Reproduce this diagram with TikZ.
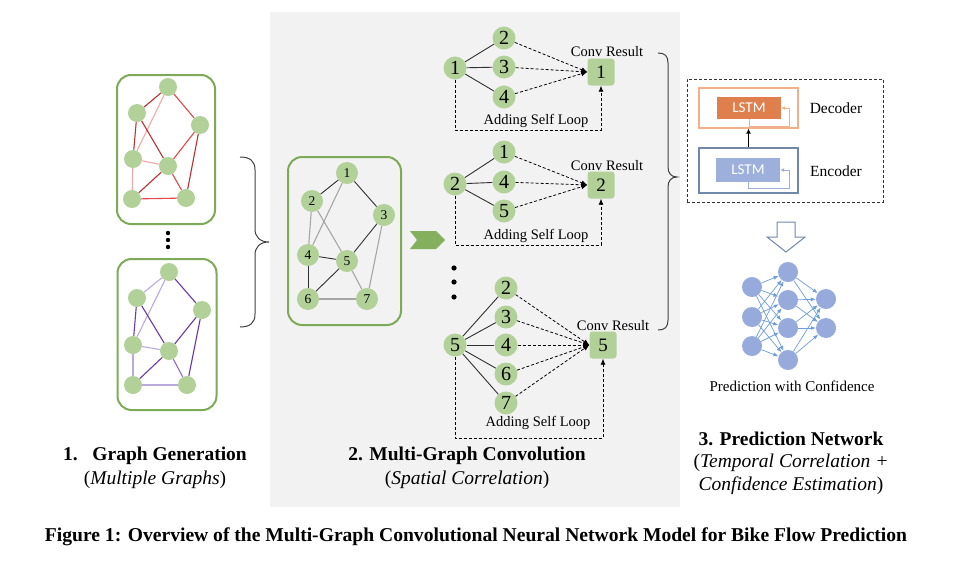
\documentclass[tikz,border=0pt]{standalone}
\usepackage{fontspec}
\setmainfont{Liberation Serif}
\newfontfamily\lstmfont{Carlito}
\usetikzlibrary{arrows.meta,calc}
\definecolor{gfill}{HTML}{B1D199}
\definecolor{gbord}{HTML}{7DAA57}
\definecolor{panel}{HTML}{F2F2F2}
\definecolor{rdark}{HTML}{B83232}
\definecolor{rmid}{HTML}{E04848}
\definecolor{rlight}{HTML}{F5A8A8}
\definecolor{pdark}{HTML}{6A3AA8}
\definecolor{pmid}{HTML}{8E6CC4}
\definecolor{plight}{HTML}{BBAADD}
\definecolor{edgeblk}{HTML}{303030}
\definecolor{edgegray}{HTML}{A6A6A6}
\definecolor{orfill}{HTML}{DF7F4D}
\definecolor{orline}{HTML}{F2B08A}
\definecolor{blfill}{HTML}{9DAFDB}
\definecolor{blline}{HTML}{7088AC}
\definecolor{nnfill}{HTML}{96AADB}
\definecolor{nnedge}{HTML}{6C9DDC}
\definecolor{chev}{HTML}{84AF5C}
\definecolor{bracec}{HTML}{404040}
\begin{document}
\begin{tikzpicture}[x=1pt,y=-1pt,
  gnode/.style={circle,fill=gfill,minimum size=18pt,inner sep=0pt},
  mnode/.style={circle,fill=gfill,minimum size=22pt,inner sep=0pt,font=\fontsize{13.5}{14}\selectfont},
  cnode/.style={circle,fill=gfill,minimum size=23pt,inner sep=0pt,font=\fontsize{20}{20}\selectfont},
  rnode/.style={rectangle,rounded corners=3pt,fill=gfill,minimum size=27pt,inner sep=0pt,font=\fontsize{19}{19}\selectfont},
  gbox/.style={draw=gbord,line width=2pt,rounded corners=14pt,inner sep=0pt},
  ed/.style={line width=1.1pt},
  nbr/.style={draw=edgeblk,line width=0.9pt},
  dsh/.style={draw=black,line width=0.8pt,dash pattern=on 3pt off 2pt,-{Latex[length=6pt,width=5pt]}},
  dshbox/.style={draw=black!80,line width=0.9pt,dash pattern=on 3pt off 2pt},
  lbl/.style={font=\fontsize{14.5}{16}\selectfont,inner sep=0pt},
  captb/.style={font=\fontsize{19.5}{22}\selectfont\bfseries,inner sep=0pt},
  capt/.style={font=\fontsize{19.5}{22}\selectfont,inner sep=0pt},
  lstmbox/.style={rectangle,inner sep=0pt,text=white,font=\lstmfont\fontsize{15}{15}\selectfont},
  nn/.style={circle,fill=nnfill,minimum size=20pt,inner sep=0pt},
  nnar/.style={draw=nnedge,line width=0.7pt,-{Latex[length=5pt,width=4pt]}},
  bracep/.style={draw=bracec,line width=1pt}
]
\useasboundingbox (0,0) rectangle (963,565);
\fill[white] (0,0) rectangle (963,565);
% gray panel
\fill[panel] (270,12) rectangle (680,507);

% ---------- left top graph ----------
\node[gbox,minimum width=98pt,minimum height=149pt] (boxa) at (166,149.5) {};
\node[gnode] (a1) at (168,87) {};
\node[gnode] (a2) at (137,113) {};
\node[gnode] (a3) at (200,125) {};
\node[gnode] (a4) at (133,159) {};
\node[gnode] (a5) at (168,166) {};
\node[gnode] (a6) at (132,199) {};
\node[gnode] (a7) at (186,198) {};
\begin{scope}[on background layer/.style={}]
\end{scope}
\draw[ed,rdark] (a1) -- (a2);
\draw[ed,rlight] (a1) -- (a4);
\draw[ed,rmid] (a1) -- (a3);
\draw[ed,rdark] (a2) -- (a4);
\draw[ed,rdark] (a2) -- (a5);
\draw[ed,rlight] (a4) -- (a5);
\draw[ed,rlight] (a4) -- (a6);
\draw[ed,rmid] (a3) -- (a5);
\draw[ed,rdark] (a3) -- (a7);
\draw[ed,rdark] (a5) -- (a6);
\draw[ed,rmid] (a5) -- (a7);
\draw[ed,rmid] (a6) -- (a7);

% dots
\fill (168,233) circle (2.2pt);
\fill (168,240) circle (2.2pt);
\fill (168,247) circle (2.2pt);

% ---------- left bottom graph ----------
\node[gbox,minimum width=99pt,minimum height=151pt] (boxb) at (167,334.5) {};
\node[gnode] (b1) at (169,272) {};
\node[gnode] (b2) at (137,298) {};
\node[gnode] (b3) at (202,310) {};
\node[gnode] (b4) at (133,345) {};
\node[gnode] (b5) at (169,351) {};
\node[gnode] (b6) at (133,385) {};
\node[gnode] (b7) at (187,385) {};
\draw[ed,plight] (b1) -- (b2);
\draw[ed,plight] (b1) -- (b4);
\draw[ed,pdark] (b1) -- (b3);
\draw[ed,pdark] (b2) -- (b4);
\draw[ed,pdark] (b2) -- (b5);
\draw[ed,plight] (b4) -- (b5);
\draw[ed,plight] (b4) -- (b6);
\draw[ed,pdark] (b3) -- (b5);
\draw[ed,pdark] (b3) -- (b7);
\draw[ed,pdark] (b5) -- (b6);
\draw[ed,pmid] (b5) -- (b7);
\draw[ed,plight] (b6) -- (b7);

% left brace
\draw[bracep] (240,157) .. controls (250,157) and (255,161) .. (255,170) -- (255,229)
  .. controls (255,237) and (260,242) .. (269,242)
  .. controls (260,242) and (255,247) .. (255,255) -- (255,314)
  .. controls (255,323) and (250,327) .. (240,327);

% ---------- middle graph ----------
\node[gbox,minimum width=113pt,minimum height=168pt] (boxm) at (344.5,241) {};
\node[mnode] (m1) at (347,173) {1};
\node[mnode] (m2) at (312,201) {2};
\node[mnode] (m3) at (384,215) {3};
\node[mnode] (m4) at (308,255) {4};
\node[mnode] (m5) at (347,261) {5};
\node[mnode] (m6) at (308,299) {6};
\node[mnode] (m7) at (367,299) {7};
\draw[nbr] (m1) -- (m2);
\draw[ed,edgegray] (m1) -- (m4);
\draw[nbr] (m1) -- (m3);
\draw[ed,edgegray] (m2) -- (m4);
\draw[ed,edgegray] (m2) -- (m5);
\draw[nbr] (m3) -- (m5);
\draw[ed,edgegray] (m3) -- (m7);
\draw[nbr] (m4) -- (m5);
\draw[nbr] (m4) -- (m6);
\draw[nbr] (m5) -- (m6);
\draw[ed,edgegray] (m5) -- (m7);
\draw[ed,edgegray] (m6) -- (m7);

% chevron
\fill[chev] (410,231) -- (436,231) -- (445,240) -- (436,249) -- (410,249) -- (417,240) -- cycle;

% ---------- conv section 1 ----------
\node[cnode] (c1) at (455,68) {1};
\node[cnode] (c1a) at (504,38) {2};
\node[cnode] (c1b) at (504,67) {3};
\node[cnode] (c1c) at (504,97) {4};
\node[rnode] (r1) at (601,72) {1};
\node[lbl,anchor=south] (t1) at (607,57) {Conv Result};
\draw[nbr] (c1) -- (c1a);
\draw[nbr] (c1) -- (c1b);
\draw[nbr] (c1) -- (c1c);
\draw[dsh] (c1a) -- (r1.west);
\draw[dsh] (c1b) -- (r1.west);
\draw[dsh] (c1c) -- (r1.west);
\coordinate (l1) at (530,130);
\draw[dsh] (c1.south) |- (l1) -| (r1.south);
\node[lbl,anchor=south] (s1) at (536,128) {Adding Self Loop};

% ---------- conv section 2 ----------
\node[cnode] (c2) at (455,184) {2};
\node[cnode] (c2a) at (504,152) {1};
\node[cnode] (c2b) at (504,182) {4};
\node[cnode] (c2c) at (504,211) {5};
\node[rnode] (r2) at (601,185) {2};
\node[lbl,anchor=south] (t2) at (607,171) {Conv Result};
\draw[nbr] (c2) -- (c2a);
\draw[nbr] (c2) -- (c2b);
\draw[nbr] (c2) -- (c2c);
\draw[dsh] (c2a) -- (r2.west);
\draw[dsh] (c2b) -- (r2.west);
\draw[dsh] (c2c) -- (r2.west);
\coordinate (l2) at (530,245);
\draw[dsh] (c2.south) |- (l2) -| (r2.south);
\node[lbl,anchor=south] (s2) at (536,243) {Adding Self Loop};

% dots
\fill (454,268) circle (2.6pt);
\fill (454,282) circle (2.6pt);
\fill (454,297) circle (2.6pt);

% ---------- conv section 3 ----------
\node[cnode] (c3) at (455,345) {5};
\node[cnode] (c3a) at (506,288) {2};
\node[cnode] (c3b) at (506,317) {3};
\node[cnode] (c3c) at (506,345) {4};
\node[cnode] (c3d) at (506,374) {6};
\node[cnode] (c3e) at (506,403) {7};
\node[rnode] (r3) at (603,345) {5};
\node[lbl,anchor=south] (t3) at (613,331) {Conv Result};
\draw[nbr] (c3) -- (c3a);
\draw[nbr] (c3) -- (c3b);
\draw[nbr] (c3) -- (c3c);
\draw[nbr] (c3) -- (c3d);
\draw[nbr] (c3) -- (c3e);
\draw[dsh] (c3a) -- (r3.west);
\draw[dsh] (c3b) -- (r3.west);
\draw[dsh] (c3c) -- (r3.west);
\draw[dsh] (c3d) -- (r3.west);
\draw[dsh] (c3e) -- (r3.west);
\coordinate (l3) at (530,438);
\draw[dsh] (c3.south) |- (l3) -| (r3.south);
\node[lbl,anchor=south] (s3) at (538,430) {Adding Self Loop};

% right brace
\draw[bracep] (658,53) .. controls (665,53) and (668,56) .. (668,63) -- (668,167)
  .. controls (668,173) and (671,177) .. (677,177)
  .. controls (671,177) and (668,181) .. (668,187) -- (668,320)
  .. controls (668,327) and (665,330) .. (658,330);

% ---------- LSTM block ----------
\node[dshbox,rectangle,minimum width=196pt,minimum height=123pt,inner sep=0pt] (outer) at (785,140.5) {};
\node[draw=orline,line width=1.2pt,rectangle,minimum width=99pt,minimum height=40pt,inner sep=0pt] (decb) at (748.5,108) {};
\node[lstmbox,fill=orfill,minimum width=64pt,minimum height=22pt] (lstd) at (749,108) {LSTM};
\coordinate (dl) at (789,126);
\draw[draw=orline,line width=1pt,-{Latex[length=4pt,width=4pt]}] (lstd.south) |- (dl) |- (lstd.east);
\node[draw=blline,line width=1.2pt,rectangle,minimum width=99pt,minimum height=45pt,inner sep=0pt] (encb) at (748.5,170.5) {};
\node[lstmbox,fill=blfill,minimum width=64pt,minimum height=24pt] (lste) at (748,170) {LSTM};
\coordinate (el) at (789,188);
\draw[draw=blfill,line width=1pt,-{Latex[length=4pt,width=4pt]}] (lste.south) |- (el) |- (lste.east);
\draw[line width=1pt,-{Latex[length=5pt,width=5pt]}] (encb.north) -- (decb.south);
\node[font=\fontsize{15.5}{16}\selectfont,inner sep=0pt] (dtx) at (836,108) {Decoder};
\node[font=\fontsize{15.5}{16}\selectfont,inner sep=0pt] (etx) at (836,171) {Encoder};

% hollow down arrow
\draw[draw=blline,line width=1pt,fill=white] (777,222) -- (795,222) -- (795,237) -- (805,237) -- (786,252) -- (767,237) -- (777,237) -- cycle;

% ---------- neural net ----------
\node[nn] (i1) at (752,287) {};
\node[nn] (i2) at (752,317) {};
\node[nn] (i3) at (752,346) {};
\node[nn] (h1) at (788,272) {};
\node[nn] (h2) at (788,300) {};
\node[nn] (h3) at (788,328) {};
\node[nn] (h4) at (788,360) {};
\node[nn] (o1) at (826,299) {};
\node[nn] (o2) at (826,328) {};
\foreach \i in {i1,i2,i3}{\foreach \h in {h1,h2,h3,h4}{\draw[nnar] (\i) -- (\h);}}
\foreach \h in {h1,h2,h3,h4}{\foreach \o in {o1,o2}{\draw[nnar] (\h) -- (\o);}}
\node[font=\fontsize{15}{16}\selectfont,inner sep=0pt] (pc) at (792,386) {Prediction with Confidence};

% ---------- captions ----------
\node[captb] (k1) at (155,456) {1.\hspace{0.75em}Graph Generation};
\node[capt] (k1b) at (155,480) {(\textit{Multiple Graphs})};
\node[captb] (k2) at (467,456) {2. Multi-Graph Convolution};
\node[capt] (k2b) at (467,480) {(\textit{Spatial Correlation})};
\node[captb] (k3) at (791,439) {3. Prediction Network};
\node[capt] (k3b) at (791,463) {(\textit{Temporal Correlation +}};
\node[capt] (k3c) at (791,486) {\textit{Confidence Estimation})};
\node[inner sep=0pt] (fig) at (476,537) {\resizebox{862pt}{!}{\bfseries\fontsize{18}{20}\selectfont Figure 1: Overview of the Multi-Graph Convolutional Neural Network Model for Bike Flow Prediction}};
\end{tikzpicture}
\end{document}
